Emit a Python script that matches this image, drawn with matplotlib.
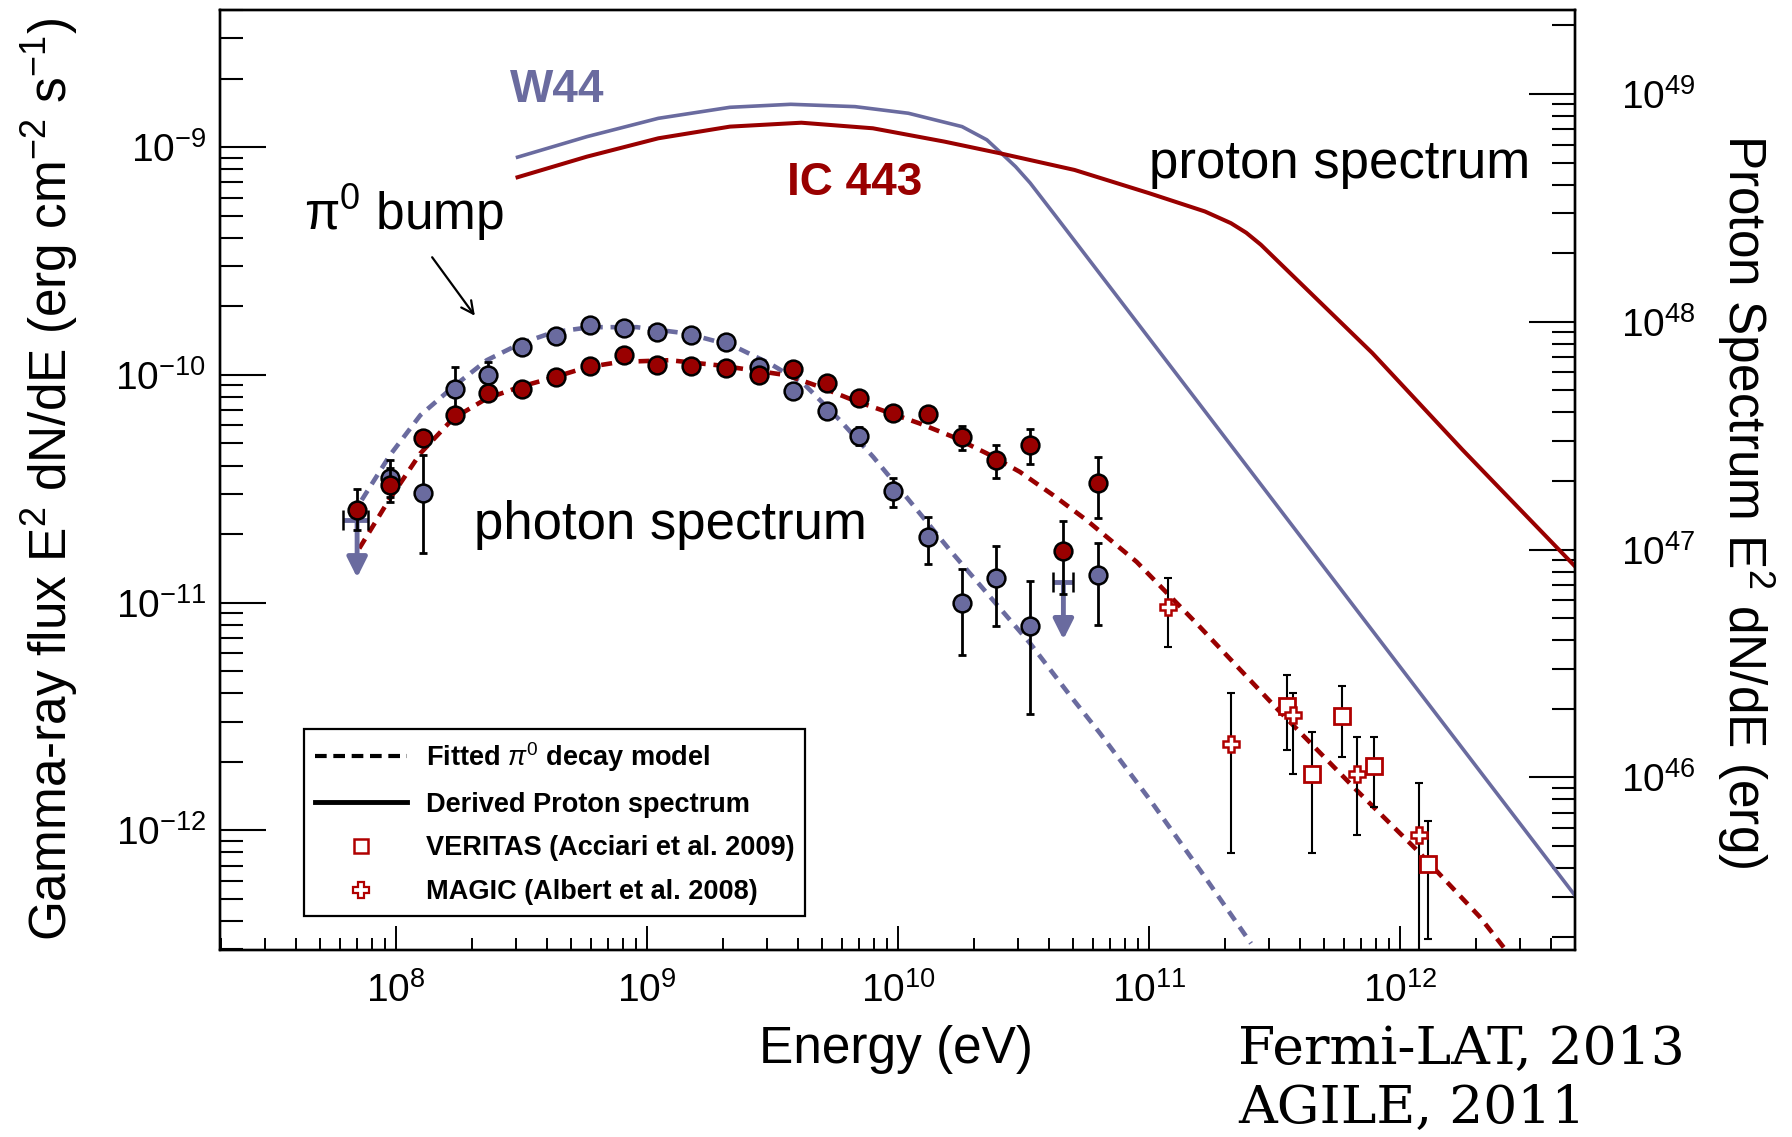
import numpy as np
import matplotlib
matplotlib.use("Agg")
import matplotlib.pyplot as plt
from matplotlib.lines import Line2D
from matplotlib.ticker import LogLocator, NullFormatter, LogFormatterMathtext

plt.rcParams['font.family'] = ['Liberation Sans', 'DejaVu Sans']
plt.rcParams['mathtext.fontset'] = 'custom'
plt.rcParams['mathtext.rm'] = 'Liberation Sans'
plt.rcParams['mathtext.it'] = 'Liberation Sans:italic'
plt.rcParams['mathtext.bf'] = 'Liberation Sans:bold'

BLUE = '#6a6b9f'
RED = '#990000'
RED2 = '#b00000'

##################
# Fermi-LAT data #
##################
# IC 443 points (eV, erg cm-2 s-1)
ic_e = [7.0e7, 9.46e7, 1.28e8, 1.72e8, 2.33e8, 3.19e8, 4.33e8, 5.93e8, 8.10e8,
        1.10e9, 1.50e9, 2.06e9, 2.79e9, 3.81e9, 5.20e9, 7.01e9, 9.58e9,
        1.32e10, 1.80e10, 2.46e10, 3.36e10, 4.56e10, 6.25e10]
ic_f = [2.55e-11, 3.28e-11, 5.26e-11, 6.65e-11, 8.34e-11, 8.66e-11, 9.74e-11,
        1.09e-10, 1.22e-10, 1.11e-10, 1.09e-10, 1.07e-10, 9.97e-11, 1.06e-10,
        9.22e-11, 7.93e-11, 6.77e-11, 6.72e-11, 5.34e-11, 4.22e-11, 4.91e-11,
        1.68e-11, 3.36e-11]
nan = np.nan
ic_lo = [2.08e-11, 2.77e-11, nan, nan, nan, nan, nan, nan, nan, nan, nan, nan,
         nan, nan, nan, nan, nan, nan, 4.67e-11, 3.54e-11, 4.05e-11, 1.09e-11, 2.36e-11]
ic_hi = [3.17e-11, 3.90e-11, nan, nan, nan, nan, nan, nan, nan, nan, nan, nan,
         nan, nan, nan, nan, nan, nan, 5.97e-11, 4.91e-11, 5.77e-11, 2.28e-11, 4.34e-11]

# W44 points
w44_e = [9.46e7, 1.28e8, 1.72e8, 2.33e8, 3.19e8, 4.33e8, 5.93e8, 8.10e8, 1.10e9,
         1.50e9, 2.06e9, 2.79e9, 3.81e9, 5.20e9, 7.01e9, 9.58e9, 1.32e10,
         1.80e10, 2.46e10, 3.36e10, 6.25e10]
w44_f = [3.51e-11, 3.04e-11, 8.63e-11, 9.97e-11, 1.32e-10, 1.48e-10, 1.66e-10,
         1.60e-10, 1.54e-10, 1.50e-10, 1.39e-10, 1.08e-10, 8.51e-11, 6.95e-11,
         5.38e-11, 3.08e-11, 1.94e-11, 1.00e-11, 1.28e-11, 7.88e-12, 1.32e-11]
w44_lo = [2.90e-11, 1.66e-11, 6.87e-11, 8.73e-11, nan, nan, nan, nan, nan, nan,
          nan, nan, nan, nan, 4.91e-11, 2.63e-11, 1.48e-11, 5.87e-12, 7.88e-12,
          3.24e-12, 8.01e-12]
w44_hi = [4.22e-11, 4.44e-11, 1.08e-10, 1.14e-10, nan, nan, nan, nan, nan, nan,
          nan, nan, nan, nan, 5.89e-11, 3.51e-11, 2.38e-11, 1.41e-11, 1.77e-11,
          1.25e-11, 1.83e-11]

# W44 upper limits
w44_ul_e = [7.0e7, 4.56e10]
w44_ul_f = [2.30e-11, 1.23e-11]
w44_ul_elo = [6.14e7, 4.16e10]
w44_ul_ehi = [7.74e7, 4.99e10]

# TeV data on IC 443
ver_e = [3.54e11, 4.47e11, 5.89e11, 7.90e11, 1.29e12]
ver_f = [3.52e-12, 1.76e-12, 3.18e-12, 1.92e-12, 7.15e-13]
ver_lo = [2.25e-12, 7.99e-13, 2.09e-12, 1.27e-12, 3.35e-13]
ver_hi = [4.83e-12, 2.70e-12, 4.31e-12, 2.56e-12, 1.10e-12]

mag_e = [1.19e11, 2.12e11, 3.76e11, 6.72e11, 1.19e12]
mag_f = [9.57e-12, 2.39e-12, 3.20e-12, 1.76e-12, 9.58e-13]
mag_lo = [6.39e-12, 7.99e-13, 1.76e-12, 9.58e-13, 1e-14]
mag_hi = [1.28e-11, 4.01e-12, 4.01e-12, 2.56e-12, 1.61e-12]

# fitted pi0 decay models
w44_mod_e = [7.30e7, 9.46e7, 1.25e8, 1.69e8, 2.30e8, 3.12e8, 4.24e8, 5.93e8,
             9.10e8, 1.44e9, 2.21e9, 3.09e9, 4.20e9, 5.87e9, 7.97e9, 1.08e10,
             1.61e10, 2.40e10, 3.36e10, 4.84e10, 6.38e10, 1.01e11, 1.60e11, 2.55e11]
w44_mod_f = [2.82e-11, 4.44e-11, 6.65e-11, 8.86e-11, 1.16e-10, 1.37e-10, 1.54e-10,
             1.62e-10, 1.62e-10, 1.52e-10, 1.34e-10, 1.12e-10, 9.17e-11, 6.32e-11,
             4.36e-11, 2.91e-11, 1.70e-11, 1.02e-11, 6.63e-12, 3.92e-12, 2.67e-12,
             1.36e-12, 6.68e-13, 3.19e-13]

ic_mod_e = [7.14e7, 9.18e7, 1.25e8, 1.69e8, 2.30e8, 3.12e8, 4.24e8, 5.75e8, 7.81e8,
            1.23e9, 1.95e9, 3.60e9, 4.89e9, 6.64e9, 9.02e9, 1.22e10, 1.66e10,
            2.26e10, 3.06e10, 4.16e10, 5.65e10, 8.93e10, 1.55e11, 3.23e11,
            6.72e11, 1.17e12, 2.08e12, 2.74e12]
ic_mod_f = [1.73e-11, 2.72e-11, 4.52e-11, 6.44e-11, 7.88e-11, 8.86e-11, 9.74e-11,
            1.08e-10, 1.14e-10, 1.16e-10, 1.10e-10, 9.97e-11, 8.86e-11, 7.74e-11,
            6.88e-11, 6.12e-11, 5.34e-11, 4.52e-11, 3.75e-11, 2.96e-11, 2.30e-11,
            1.51e-11, 8.09e-12, 3.43e-12, 1.50e-12, 8.18e-13, 4.17e-13, 2.83e-13]

# derived proton spectra (right axis, erg)
w44_p_e = [3.05e8, 5.77e8, 1.11e9, 2.14e9, 3.74e9, 6.74e9, 1.10e10, 1.80e10,
           2.26e10, 2.60e10, 2.94e10, 3.36e10, 4.26e10, 1.60e11, 1.00e12, 5.05e12]
w44_p = [5.28e48, 6.50e48, 7.82e48, 8.74e48, 9.01e48, 8.80e48, 8.23e48, 7.19e48,
         6.29e48, 5.45e48, 4.80e48, 4.07e48, 2.90e48, 4.31e47, 3.06e46, 2.97e45]

ic_p_e = [3.05e8, 5.77e8, 1.11e9, 2.14e9, 4.12e9, 7.94e9, 1.53e10, 2.55e10,
          5.05e10, 1.00e11, 1.67e11, 2.12e11, 2.44e11, 2.79e11, 7.76e11,
          1.77e12, 5.05e12]
ic_p = [4.31e48, 5.31e48, 6.39e48, 7.19e48, 7.48e48, 7.07e48, 6.18e48, 5.49e48,
        4.64e48, 3.67e48, 3.05e48, 2.71e48, 2.46e48, 2.18e48, 7.29e47,
        2.75e47, 8.31e46]

# labelled decades
x_ticks = [1e8, 1e9, 1e10, 1e11, 1e12]
y_ticks = [1e-12, 1e-11, 1e-10, 1e-9]
p_ticks = [1e46, 1e47, 1e48, 1e49]


def fx(p):
    return p / 1792.0


def fy(p):
    return 1 - p / 1137.0


def yerr(f, lo, hi):
    f = np.array(f)
    lo = np.where(np.isnan(lo), f, lo)
    hi = np.where(np.isnan(hi), f, hi)
    return [f - lo, hi - f]


fig = plt.figure(figsize=(17.92, 11.37), dpi=100)
ax = fig.add_axes([fx(220), fy(949.5), fx(1575) - fx(220), fy(10) - fy(949.5)])
ax.set_xscale('log')
ax.set_yscale('log')
ax.set_xlim(1.99e7, 4.98e12)
ax.set_ylim(3.0e-13, 4.0e-9)

# model curves
ax.plot(w44_mod_e, w44_mod_f, color=BLUE, lw=3.3, ls=(0, (2.4, 1.7)), zorder=2)
ax.plot(ic_mod_e, ic_mod_f, color=RED, lw=3.3, ls=(0, (2.4, 1.7)), zorder=2)

# W44 points
ax.errorbar(w44_e, w44_f, yerr=yerr(w44_f, w44_lo, w44_hi), fmt='none',
            ecolor='black', elinewidth=2, capsize=2.8, capthick=2, zorder=3)
ax.plot(w44_e, w44_f, 'o', ms=12.8, mfc=BLUE, mec='black', mew=1.8, zorder=4)

# W44 upper limits
ul_e = np.array(w44_ul_e)
ul_xerr = [ul_e - np.array(w44_ul_elo), np.array(w44_ul_ehi) - ul_e]
ax.errorbar(ul_e, w44_ul_f, xerr=ul_xerr, fmt='none', ecolor=BLUE,
            elinewidth=3.5, capsize=0, zorder=3)
ax.errorbar(ul_e, w44_ul_f, xerr=ul_xerr, fmt='none', ecolor='black',
            elinewidth=0, capsize=7, capthick=1.8, zorder=3)
for e, f in zip(w44_ul_e, w44_ul_f):
    ax.annotate('', xy=(e, f * 0.56), xytext=(e, f),
                arrowprops=dict(arrowstyle='-|>', color=BLUE, lw=3.5,
                                mutation_scale=30, shrinkA=0, shrinkB=0),
                zorder=3)

# IC 443 points
ax.errorbar(ic_e, ic_f, yerr=yerr(ic_f, ic_lo, ic_hi), fmt='none',
            ecolor='black', elinewidth=2, capsize=2.8, capthick=2, zorder=5)
ax.plot(ic_e, ic_f, 'o', ms=12.8, mfc=RED, mec='black', mew=1.8, zorder=6)

# VERITAS and MAGIC
ax.errorbar(ver_e, ver_f, yerr=yerr(ver_f, ver_lo, ver_hi), fmt='none',
            ecolor='black', elinewidth=1.5, capsize=2.8, capthick=1.5, zorder=5)
ax.plot(ver_e, ver_f, 's', ms=11, mfc='white', mec=RED2, mew=2, zorder=6)
ax.errorbar(mag_e, mag_f, yerr=yerr(mag_f, mag_lo, mag_hi), fmt='none',
            ecolor='black', elinewidth=1.5, capsize=2.8, capthick=1.5, zorder=5)
ax.plot(mag_e, mag_f, 'P', ms=12, mfc='white', mec=RED2, mew=1.8, zorder=7)

# proton spectra on right axis
ax2 = ax.twinx()
ax2.set_yscale('log')
ax2.set_ylim(1.756e45, 2.337e49)
ax2.plot(w44_p_e, w44_p, color=BLUE, lw=2.6)
ax2.plot(ic_p_e, ic_p, color=RED, lw=2.9)
ax2.set_xlim(1.99e7, 4.98e12)

# ticks ROOT style
for a in (ax, ax2):
    for s in a.spines.values():
        s.set_linewidth(1.7)
ax.set_xticks(x_ticks)
ax.xaxis.set_minor_locator(LogLocator(base=10, subs=np.arange(2, 10), numticks=20))
ax.xaxis.set_minor_formatter(NullFormatter())
ax.xaxis.set_major_formatter(LogFormatterMathtext())
ax.set_yticks(y_ticks)
ax.yaxis.set_minor_locator(LogLocator(base=10, subs=np.arange(2, 10), numticks=20))
ax.yaxis.set_minor_formatter(NullFormatter())
ax.yaxis.set_major_formatter(LogFormatterMathtext())
ax2.set_yticks(p_ticks)
ax2.yaxis.set_minor_locator(LogLocator(base=10, subs=np.arange(2, 10), numticks=20))
ax2.yaxis.set_minor_formatter(NullFormatter())
ax2.yaxis.set_major_formatter(LogFormatterMathtext())
ax.set_xlim(1.99e7, 4.98e12)
ax.set_ylim(3.0e-13, 4.0e-9)
ax2.set_ylim(1.756e45, 2.337e49)

ax.tick_params(axis='x', which='major', direction='in', length=17.5, width=1.4,
               top=False, pad=16, labelsize=28)
ax.tick_params(axis='x', which='minor', direction='in', length=9, width=1.4, top=False)
ax.tick_params(axis='y', which='major', direction='in', length=33, width=1.5,
               right=False, pad=10, labelsize=28)
ax.tick_params(axis='y', which='minor', direction='in', length=16.5, width=1.5, right=False)
ax2.tick_params(axis='y', which='major', direction='in', length=33, width=1.5,
                left=False, pad=33, labelsize=28)
ax2.tick_params(axis='y', which='minor', direction='in', length=16.5, width=1.5, left=False)

# legend
handles = [
    Line2D([], [], color='black', lw=3, ls=(0, (2.8, 1.6))),
    Line2D([], [], color='black', lw=3.5),
    Line2D([], [], marker='s', ls='none', ms=10, mfc='white', mec=RED2, mew=1.8),
    Line2D([], [], marker='P', ls='none', ms=11, mfc='white', mec=RED2, mew=1.6),
]
labels = ['Fitted $\\pi^0$ decay model', 'Derived Proton spectrum',
          'VERITAS (Acciari et al. 2009)', 'MAGIC (Albert et al. 2008)']
leg = ax.legend(handles, labels, loc='upper left', bbox_to_anchor=(0.062, 0.2347),
                borderaxespad=0, fancybox=False, framealpha=1, edgecolor='black',
                prop=dict(family='Liberation Sans', weight='bold', size=19.5),
                handlelength=3.4, handletextpad=0.7, labelspacing=0.66, borderpad=0.4)
leg.get_frame().set_linewidth(1.6)

# annotations
fig.text(fx(510), fy(102), 'W44', color=BLUE, fontsize=33, fontweight='bold')
fig.text(fx(787), fy(195), 'IC 443', color=RED, fontsize=33, fontweight='bold')
fig.text(fx(1149), fy(178), 'proton spectrum', fontsize=38)
fig.text(fx(304), fy(230), '\u03c0$^0$ bump', fontsize=37)
fig.text(fx(474), fy(539), 'photon spectrum', fontsize=38)
ax.annotate('', xy=(fx(476.5), fy(318)), xycoords='figure fraction',
            xytext=(fx(430.5), fy(255)), textcoords='figure fraction',
            arrowprops=dict(arrowstyle='->', lw=1.6, color='black', mutation_scale=22))

fig.text(fx(50), fy(480), 'Gamma-ray flux E$^2$ dN/dE (erg cm$^{-2}$ s$^{-1}$)',
         rotation=90, ha='center', va='center', fontsize=37)
fig.text(fx(1745), fy(501), 'Proton Spectrum E$^2$ dN/dE (erg)',
         rotation=270, ha='center', va='center', fontsize=37)
fig.text(fx(896), fy(1063), 'Energy (eV)', ha='center', fontsize=37)
fig.text(fx(1238), fy(1063), 'Fermi-LAT, 2013', family='DejaVu Serif', fontsize=38.5)
fig.text(fx(1238), fy(1122), 'AGILE, 2011', family='DejaVu Serif', fontsize=38.5)

fig.savefig('out.png', dpi=100)
